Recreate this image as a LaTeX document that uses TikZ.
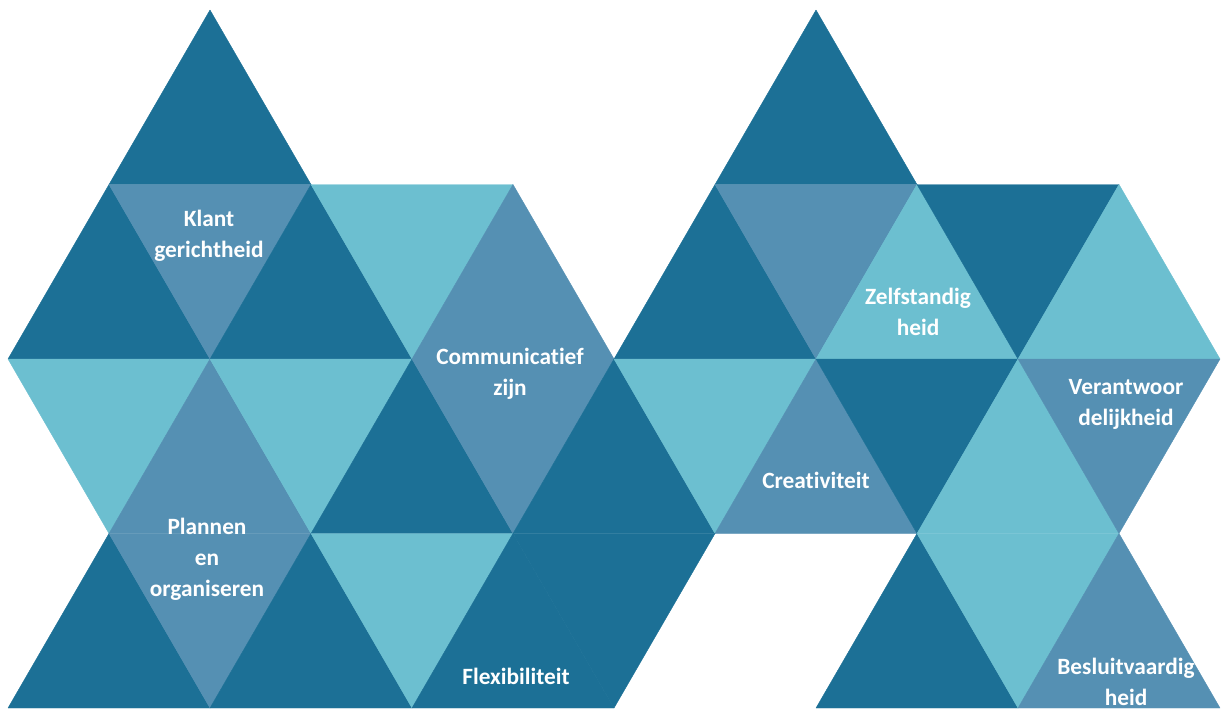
\documentclass[tikz,border=0pt]{standalone}
\usepackage{fontspec}
\setmainfont{Carlito}[Ligatures={NoCommon,NoRequired,NoContextual}]
\definecolor{cdark}{HTML}{1C7096}
\definecolor{cmed}{HTML}{5590B3}
\definecolor{clight}{HTML}{6CBFD0}
\begin{document}
\begin{tikzpicture}[x=0.75pt,y=-0.75pt,
  D/.style={fill=cdark,draw=cdark,line width=0.3pt,line join=round},
  M/.style={fill=cmed,draw=cmed,line width=0.3pt,line join=round},
  L/.style={fill=clight,draw=clight,line width=0.3pt,line join=round},
  lbl/.style={text=white,font=\fontsize{17.5}{23.25}\selectfont\bfseries,align=center,inner sep=0pt}]
\useasboundingbox (0,0) rectangle (1223,711);
\foreach \k in {0,...,12}{\foreach \r in {0,...,4}{\coordinate (p\k-\r) at ({8+101*\k},{10+174.5*\r});}}
% row 0
\path[D] (p2-0)--(p1-1)--(p3-1)--cycle;
\path[D] (p8-0)--(p7-1)--(p9-1)--cycle;
% row 1
\path[D] (p1-1)--(p0-2)--(p2-2)--cycle;
\path[M] (p1-1)--(p3-1)--(p2-2)--cycle;
\path[D] (p3-1)--(p2-2)--(p4-2)--cycle;
\path[L] (p3-1)--(p5-1)--(p4-2)--cycle;
\path[M] (p5-1)--(p4-2)--(p6-2)--cycle;
\path[D] (p7-1)--(p6-2)--(p8-2)--cycle;
\path[M] (p7-1)--(p9-1)--(p8-2)--cycle;
\path[L] (p9-1)--(p8-2)--(p10-2)--cycle;
\path[D] (p9-1)--(p11-1)--(p10-2)--cycle;
\path[L] (p11-1)--(p10-2)--(p12-2)--cycle;
% row 2
\path[L] (p0-2)--(p2-2)--(p1-3)--cycle;
\path[M] (p2-2)--(p1-3)--(p3-3)--cycle;
\path[L] (p2-2)--(p4-2)--(p3-3)--cycle;
\path[D] (p4-2)--(p3-3)--(p5-3)--cycle;
\path[M] (p4-2)--(p6-2)--(p5-3)--cycle;
\path[D] (p6-2)--(p5-3)--(p7-3)--cycle;
\path[L] (p6-2)--(p8-2)--(p7-3)--cycle;
\path[M] (p8-2)--(p7-3)--(p9-3)--cycle;
\path[D] (p8-2)--(p10-2)--(p9-3)--cycle;
\path[L] (p10-2)--(p9-3)--(p11-3)--cycle;
\path[M] (p10-2)--(p12-2)--(p11-3)--cycle;
% row 3
\path[D] (p1-3)--(p0-4)--(p2-4)--cycle;
\path[M] (p1-3)--(p3-3)--(p2-4)--cycle;
\path[D] (p3-3)--(p2-4)--(p4-4)--cycle;
\path[L] (p3-3)--(p5-3)--(p4-4)--cycle;
\path[D] (p5-3)--(p4-4)--(p6-4)--cycle;
\path[D] (p5-3)--(p7-3)--(p6-4)--cycle;
\path[D] (p9-3)--(p8-4)--(p10-4)--cycle;
\path[L] (p9-3)--(p11-3)--(p10-4)--cycle;
\path[M] (p11-3)--(p10-4)--(p12-4)--cycle;
% labels
\node[lbl] (klant) at (209,236) {Klant\\gerichtheid};
\node[lbl] (comm) at (510,374) {Communicatief\\zijn};
\node[lbl] (plan) at (207,559) {Plannen\\en\\organiseren};
\node[lbl] (flex) at (516,676) {Flexibiliteit};
\node[lbl] (zelf) at (918,312) {Zelfstandig\\heid};
\node[lbl] (crea) at (816,480) {Creativiteit};
\node[lbl] (verant) at (1126,404) {Verantwoor\\delijkheid};
\node[lbl] (besl) at (1126,682) {Besluitvaardig\\heid};
\end{tikzpicture}
\end{document}
